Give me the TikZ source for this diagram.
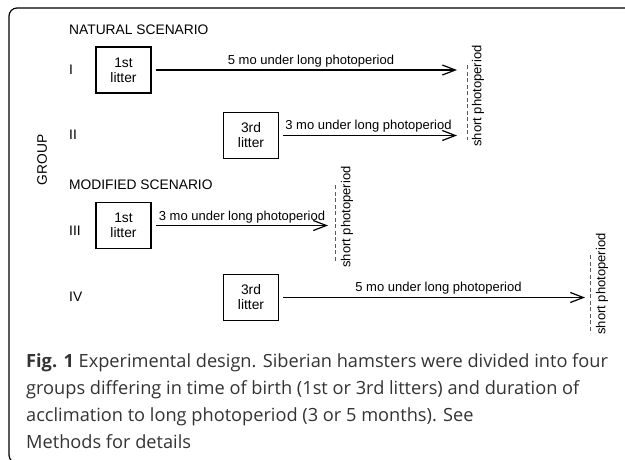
\documentclass[tikz,border=0pt]{standalone}
\usepackage{fontspec}
\setmainfont{Liberation Sans}
\newfontfamily\capfont{Open Sans}
\usetikzlibrary{arrows.meta}
\tikzset{
  lbl/.style={font=\fontsize{13}{15}\selectfont, inner sep=0pt},
  head/.style={font=\fontsize{13.8}{15}\selectfont, inner sep=0pt},
  litterbox/.style={draw, line width=1.2pt, minimum width=55pt, minimum height=46pt, align=center, inner sep=0pt, font=\fontsize{13.8}{15}\selectfont},
  arr/.style={line width=1.3pt, -{Straight Barb[length=13pt,width=10pt,line width=1.2pt]}},
  shortline/.style={draw=black!65, line width=1pt, dash pattern=on 4pt off 2.5pt},
  sptext/.style={lbl, rotate=90},
}
\begin{document}
\begin{tikzpicture}[x=1pt,y=-1pt]
\useasboundingbox (0,0) rectangle (625,459);
\begin{scope}
\clip (0,0) rectangle (625,459);
\draw[line width=1.2pt, rounded corners=8pt] (630,8) -- (9,8) -- (9,463) -- (40,463);
\end{scope}
% headings
\node[head, anchor=west] (nat) at (69,30) {NATURAL SCENARIO};
\node[head, anchor=west] (mod) at (69,185) {MODIFIED SCENARIO};
\node[head, rotate=90] (grp) at (42,160) {GROUP};
% group labels
\node[head, anchor=west] (gI) at (69,70) {I};
\node[head, anchor=west] (gII) at (69,135) {II};
\node[head, anchor=west] (gIII) at (69,231) {III};
\node[head, anchor=west] (gIV) at (69,297) {IV};
% boxes
\node[litterbox] (b1) at (123.5,70) {1st\\litter};
\node[litterbox] (b2) at (251,135.5) {3rd\\litter};
\node[litterbox] (b3) at (123.5,225.5) {1st\\litter};
\node[litterbox] (b4) at (251,297.5) {3rd\\litter};
% arrow ends
\coordinate (e1) at (457,70);
\coordinate (e2) at (457,135.5);
\coordinate (e3) at (328,225.5);
\coordinate (e4) at (585,297.5);
\draw[arr] ([xshift=4pt]b1.east) -- (e1);
\draw[arr] ([xshift=4pt]b2.east) -- (e2);
\draw[arr] ([xshift=4pt]b3.east) -- (e3);
\draw[arr] ([xshift=4pt]b4.east) -- (e4);
% arrow labels
\node[lbl, anchor=base] (l1) at (311,64.5) {5 mo under long photoperiod};
\node[lbl, anchor=base] (l2) at (368.5,129.5) {3 mo under long photoperiod};
\node[lbl, anchor=base] (l3) at (242,220) {3 mo under long photoperiod};
\node[lbl, anchor=base] (l4) at (438.5,291.5) {5 mo under long photoperiod};
% short photoperiod
\coordinate (d1a) at (467,65); \coordinate (d1b) at (467,140);
\coordinate (d2a) at (335,185); \coordinate (d2b) at (335,262);
\coordinate (d3a) at (590,255); \coordinate (d3b) at (590,332);
\draw[shortline] (d1a) -- (d1b);
\draw[shortline] (d2a) -- (d2b);
\draw[shortline] (d3a) -- (d3b);
\node[sptext] (s1) at (478,96) {short photoperiod};
\node[sptext] (s2) at (347,217) {short photoperiod};
\node[sptext] (s3) at (602,284) {short photoperiod};
% caption
\node[anchor=base west, inner sep=0pt, align=left, text=black!80,
      font=\capfont\fontsize{18.2}{27}\selectfont] (cap) at (26,448)
  {\textbf{Fig. 1} Experimental design. Siberian hamsters were divided into four\\
   groups differing in time of birth (1st or 3rd litters) and duration of\\
   acclimation to long photoperiod (3 or 5 months). See\\
   Methods for details};
\end{tikzpicture}
\end{document}
